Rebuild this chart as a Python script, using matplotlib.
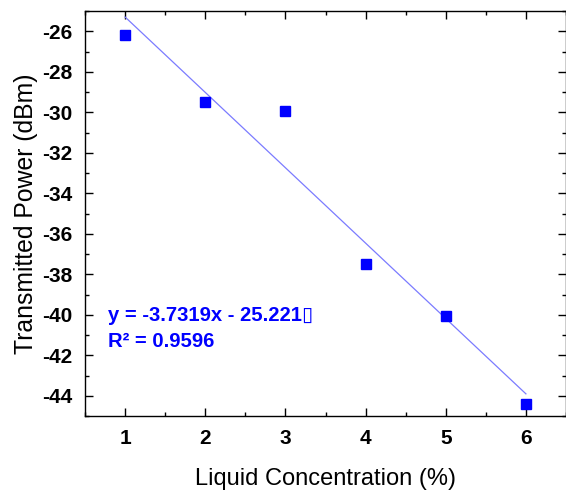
import numpy as np
import matplotlib
matplotlib.use("Agg")
import matplotlib.pyplot as plt
from matplotlib.ticker import MultipleLocator

plt.rcParams['font.family'] = ['Liberation Sans', 'DejaVu Sans']
plt.rcParams['axes.unicode_minus'] = False

concentration = [1, 2, 3, 4, 5, 6]
power = [-26.2, -29.5, -29.94, -37.5, -40.07, -44.4]
xticks = [1, 2, 3, 4, 5, 6]
yticks = [-44, -42, -40, -38, -36, -34, -32, -30, -28, -26]
eq_text = "y = -3.7319x - 25.221\u25af"
r2_text = "R\u00b2 = 0.9596"

fig = plt.figure(figsize=(5.66, 4.95), dpi=100)
ax = fig.add_axes([85/566, 1 - 416/495, (566 - 85)/566, (416 - 11)/495])

x = np.array(concentration, dtype=float)
y = np.array(power, dtype=float)
coef = np.polyfit(x, y, 1)
xf = np.array([x.min(), x.max()])
ax.plot(xf, np.polyval(coef, xf), color='#7b7bff', lw=0.9, zorder=2)
ax.plot(x, y, 's', color='#0000ff', markersize=7.5, zorder=3)

ax.set_xlim(0.5, 6.5)
ax.set_ylim(-45, -25)
ax.set_xticks(xticks)
ax.set_yticks(yticks)
ax.xaxis.set_minor_locator(MultipleLocator(0.5))
ax.yaxis.set_minor_locator(MultipleLocator(1))
ax.tick_params(which='both', direction='in', top=True, right=True, width=1.0)
ax.tick_params(which='major', length=6, labelsize=15, pad=9)
ax.tick_params(which='minor', length=3)
for lab in ax.get_xticklabels() + ax.get_yticklabels():
    lab.set_fontweight('bold')
for s in ax.spines.values():
    s.set_linewidth(1.0)

ax.set_xlabel("Liquid Concentration (%)", fontsize=17, labelpad=15)
ax.set_ylabel("Transmitted Power (dBm)", fontsize=17.8, labelpad=3)

ax.text(0.048, 0.247, eq_text, transform=ax.transAxes, color='#0000ff',
        fontsize=14.6, fontweight='bold', va='center')
ax.text(0.048, 0.185, r2_text, transform=ax.transAxes, color='#0000ff',
        fontsize=14.6, fontweight='bold', va='center')

fig.savefig("out.png", dpi=100)
